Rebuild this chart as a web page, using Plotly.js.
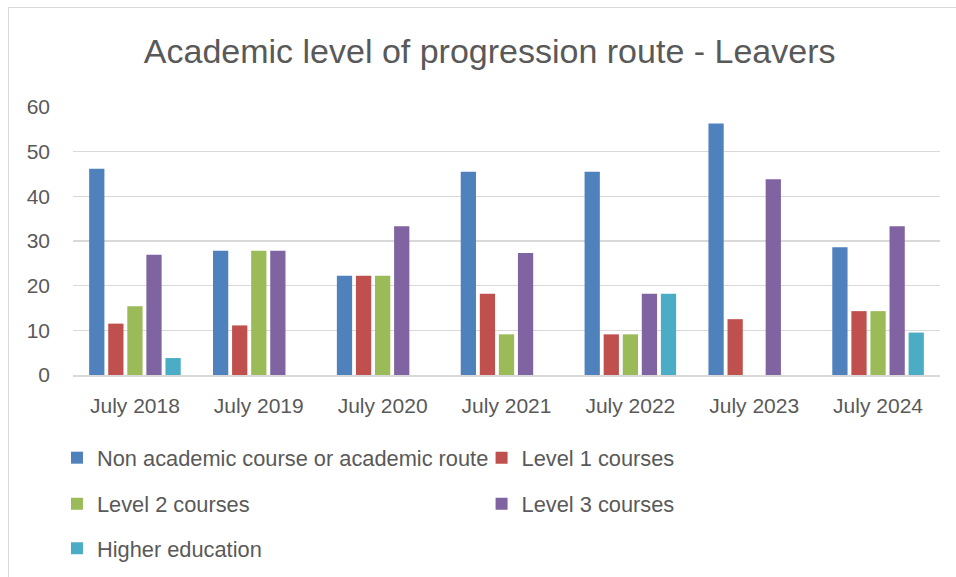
<!DOCTYPE html>
<html>
<head>
<meta charset="utf-8">
<script src="https://cdn.plot.ly/plotly-3.0.1.min.js"></script>
<style>
  body { margin: 0; background: #ffffff; }
  #chart {
    position: absolute;
    left: 8px;
    top: 7px;
    width: 948px;
    height: 570px;
    border-top: 1px solid #d9d9d9;
    border-left: 1px solid #d9d9d9;
  }
</style>
</head>
<body>
<div id="chart"></div>
<script>
// categories
var years = ["July 2018", "July 2019", "July 2020", "July 2021", "July 2022", "July 2023", "July 2024"];

// percentages (null = no bar)
var nonAcademic = [46.2, 27.8, 22.2, 45.5, 45.5, 56.3, 28.6];
var level1 = [11.5, 11.1, 22.2, 18.2, 9.1, 12.5, 14.3];
var level2 = [15.4, 27.8, 22.2, 9.1, 9.1, null, 14.3];
var level3 = [26.9, 27.8, 33.3, 27.3, 18.2, 43.8, 33.3];
var higherEd = [3.8, null, null, null, 18.2, null, 9.5];

var textColor = "#595959";
var gridColor = "#d9d9d9";
var fontFam = "Liberation Sans, Arial, sans-serif";

function series(name, vals, color, legendId) {
  return {
    type: "bar",
    x: years,
    y: vals,
    name: name,
    legend: legendId,
    marker: { color: color, line: { width: 0 } },
    hoverinfo: "x+y+name"
  };
}

var traces = [
  series("Non academic course or academic route", nonAcademic, "#4F81BD", "legend"),
  series("Level 1 courses", level1, "#C0504D", "legend2"),
  series("Level 2 courses", level2, "#9BBB59", "legend3"),
  series("Level 3 courses", level3, "#8064A2", "legend4"),
  series("Higher education", higherEd, "#4BACC6", "legend5")
];

// one legend per entry so the two-column grid sits like the original
function legendAt(x, y) {
  return {
    orientation: "h",
    xanchor: "left",
    yanchor: "middle",
    xref: "container",
    yref: "container",
    x: x,
    y: y,
    font: { family: fontFam, size: 21.8, color: textColor },
    bgcolor: "rgba(0,0,0,0)"
  };
}

var col1 = 0.0506, col2 = 0.4985;
var row1 = 0.2105, row2 = 0.1295, row3 = 0.0515;

var layout = {
  width: 948,
  height: 570,
  margin: { l: 64, r: 17, t: 99, b: 203 },
  paper_bgcolor: "#ffffff",
  plot_bgcolor: "#ffffff",
  font: { family: fontFam, color: textColor },
  title: {
    text: "Academic level of progression route - Leavers",
    font: { family: fontFam, size: 34, color: textColor },
    xref: "container",
    yref: "container",
    x: 0.507,
    xanchor: "center",
    y: 0.924,
    yanchor: "middle"
  },
  barmode: "group",
  bargap: 0.23,
  bargroupgap: 0.2,
  xaxis: {
    type: "category",
    showgrid: false,
    showline: true,
    linecolor: gridColor,
    linewidth: 1.5,
    ticks: "",
    ticklabelstandoff: 11,
    tickfont: { family: fontFam, size: 21, color: textColor },
    fixedrange: true
  },
  yaxis: {
    range: [0, 60],
    dtick: 10,
    showgrid: true,
    gridcolor: gridColor,
    gridwidth: 1.5,
    zeroline: false,
    showline: false,
    ticks: "",
    ticklabelstandoff: 22,
    tickfont: { family: fontFam, size: 21, color: textColor },
    fixedrange: true
  },
  legend: legendAt(col1, row1),
  legend2: legendAt(col2, row1),
  legend3: legendAt(col1, row2),
  legend4: legendAt(col2, row2),
  legend5: legendAt(col1, row3),
  showlegend: true
};

Plotly.newPlot("chart", traces, layout, { displayModeBar: false, staticPlot: true });
</script>
</body>
</html>
